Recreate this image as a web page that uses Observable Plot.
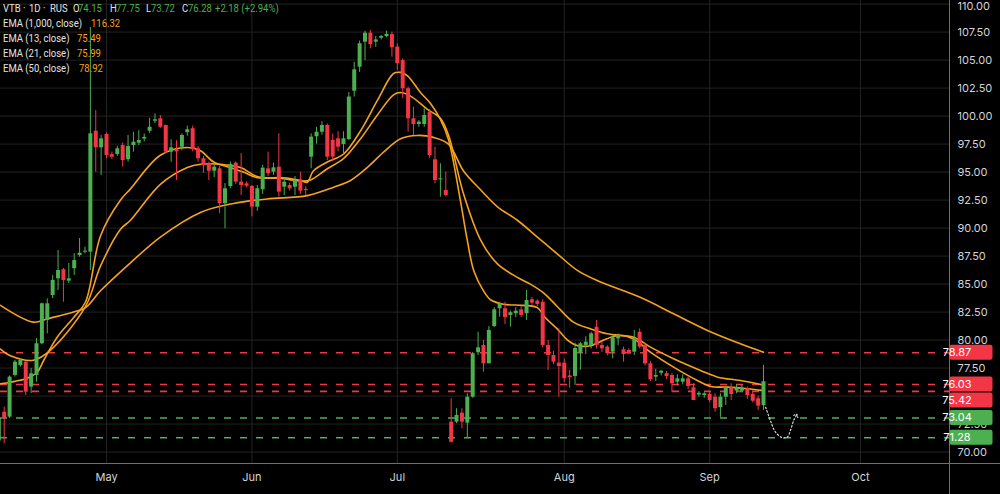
<!DOCTYPE html>
<html><head><meta charset="utf-8">
<script src="https://cdn.jsdelivr.net/npm/d3@7"></script>
<script src="https://cdn.jsdelivr.net/npm/@observablehq/plot@0.6"></script>
<style>
html,body{margin:0;padding:0;background:#000;}
#wrap{position:relative;width:1000px;height:494px;background:#000;overflow:hidden;}
#legend{position:absolute;left:0;top:0;width:400px;height:80px;font-family:Roboto,Inter,sans-serif;font-size:10.8px;color:#e3e3e3;white-space:nowrap;pointer-events:none;}
#legend span{position:absolute;line-height:12px;transform:scaleX(0.88);transform-origin:0 50%;}
#legend .g{color:#4caf50;}
#legend .o{color:#f6a21e;}
</style></head><body>
<div id="wrap"><div id="chart"></div><div id="legend"></div></div>
<script>
// ---- data ----
const tickerParts = ["VTB","·","1D","·","RUS"];
const firstIndex = -1;
const opens = [71.0,73.56,73.12,76.84,77.73,78.03,75.8,76.84,79.67,81.75,83.98,85.47,86.28,85.26,86.37,87.55,87.85,87.85,98.65,97.17,98.36,96.55,96.57,97.37,96.1,97.37,97.58,97.95,98.65,99.54,99.76,99.16,96.78,97.0,97.22,98.52,98.87,97.08,96.19,95.74,95.08,95.29,92.17,93.71,95.8,94.1,93.95,93.71,91.87,93.42,95.29,94.99,95.44,93.65,93.8,93.65,94.31,93.45,96.33,98.15,98.56,99.16,97.82,97.97,97.46,97.91,102.22,104.37,106.6,107.4,106.6,106.95,107.1,107.28,106.16,104.96,102.44,99.76,99.25,99.25,100.35,96.1,94.3,93.36,72.67,72.67,73.47,72.58,74.9,78.87,79.52,77.88,81.21,82.8,82.8,82.2,82.35,82.7,82.35,83.6,83.47,83.38,79.52,78.62,77.94,77.94,76.8,76.75,78.83,79.52,79.52,81.15,79.52,79.37,78.92,80.11,79.13,79.07,78.92,80.7,79.52,77.88,76.69,77.04,77.0,76.84,76.24,76.24,76.54,75.74,75.1,75.05,75.14,74.9,73.96,74.9,75.74,75.44,75.44,75.65,75.14,74.76,74.15];
const highs = [73.1,74.0,76.8,78.2,78.3,78.1,77.46,80.14,83.3,83.69,85.77,88.0,86.4,86.84,87.73,89.07,88.3,107.9,100.5,98.27,98.5,96.8,97.3,97.6,98.27,98.56,98.7,98.4,99.8,100.2,100.05,99.2,97.88,97.8,98.4,99.1,99.1,97.3,96.4,95.9,95.6,95.5,93.98,95.9,95.9,96.66,94.1,93.8,93.8,95.6,96.78,95.8,98.42,94.5,94.0,94.6,94.99,93.7,98.42,99.0,99.5,99.3,98.4,98.6,98.6,102.1,104.8,106.7,107.58,107.64,107.1,107.2,107.6,107.5,106.46,105.1,102.6,100.8,99.6,100.65,100.6,97.22,95.74,95.0,74.76,73.87,73.87,75.2,78.9,80.7,79.96,81.2,82.9,83.38,83.38,82.6,82.9,83.0,84.43,83.8,83.6,83.6,79.96,79.0,81.0,78.3,77.3,79.72,79.8,80.3,80.7,81.75,79.8,79.5,80.4,80.56,79.37,79.2,80.86,81.0,79.7,78.1,77.4,77.3,77.2,77.0,76.9,76.9,76.7,76.1,75.4,75.3,75.4,75.2,75.2,75.9,76.1,76.0,76.0,75.8,75.4,75.0,77.75];
const lows = [69.9,70.74,73.0,76.7,77.6,75.05,75.23,76.24,79.6,80.56,83.7,84.43,83.38,85.05,85.77,87.4,87.7,86.2,94.99,94.7,96.2,96.1,96.4,95.44,95.88,96.78,97.37,97.7,98.45,99.33,98.9,96.63,95.88,94.25,96.9,98.2,96.8,95.9,94.9,94.25,94.5,91.28,89.94,93.5,93.9,92.91,93.6,91.0,91.5,93.0,94.6,94.7,92.76,92.9,93.3,92.9,93.0,92.9,95.29,97.5,98.3,96.03,95.9,96.8,96.5,97.8,101.7,103.9,104.96,106.0,106.15,106.8,107.0,105.26,104.07,101.55,98.56,98.27,99.0,99.0,96.2,93.95,92.76,92.8,70.8,72.53,72.08,71.19,74.8,78.62,77.13,77.88,81.1,82.04,81.4,81.15,82.0,82.0,81.75,83.1,83.0,79.3,77.29,77.8,74.9,76.2,75.7,75.95,77.3,78.7,79.2,79.22,78.9,78.6,78.33,79.5,78.03,78.7,78.62,79.22,77.7,76.3,76.3,76.8,76.5,75.35,75.9,76.0,75.6,74.6,74.9,74.8,74.4,73.56,73.1,74.16,74.6,75.2,75.3,74.7,74.4,73.7,73.72];
const closes = [73.0,72.97,76.69,78.03,78.18,75.35,76.99,79.67,83.24,83.24,85.32,86.21,85.32,85.47,87.1,87.76,87.94,98.42,97.17,97.97,96.48,96.33,97.08,96.03,97.28,97.67,97.82,98.1,99.0,99.67,99.0,96.78,97.17,96.8,98.27,98.78,96.99,96.19,95.59,95.08,95.44,92.17,93.51,95.68,94.1,93.8,93.74,91.87,93.51,95.35,94.85,95.38,93.21,94.1,93.5,94.25,93.3,93.35,98.12,98.56,99.16,96.33,96.33,97.22,97.97,101.7,104.13,106.46,107.4,106.39,106.8,107.1,107.3,106.1,104.67,102.44,99.76,99.25,99.46,100.05,96.48,94.25,94.4,92.91,70.88,73.27,72.67,74.9,78.78,79.31,77.88,80.86,82.7,83.24,82.0,82.44,82.58,82.2,83.54,83.3,83.18,79.52,78.62,78.03,77.64,76.55,76.65,79.25,79.67,79.81,80.56,79.52,79.22,78.78,80.2,80.41,78.71,78.83,80.11,79.37,77.88,76.45,76.84,77.22,76.75,76.1,76.54,76.54,75.86,74.6,75.25,75.2,74.6,73.87,74.9,75.74,75.14,75.74,75.7,75.05,74.54,74.1,76.28];

// EMA lines: [day index, value]
const ema13 = [[-0.69,76.1],[1.17,76.24],[3.96,76.54],[6.13,77.13],[7.35,78.2],[9.84,80.26],[12.87,82.0],[15.1,83.4],[17.88,89.3],[21.6,92.5],[23.45,93.5],[29.0,96.5],[34.0,97.2],[36.45,96.9],[38.9,95.9],[42.0,95.4],[44.4,95.0],[47.0,94.5],[51.9,94.5],[55.0,94.25],[56.3,94.1],[57.4,95.1],[60.0,95.9],[63.0,96.6],[66.2,98.7],[69.3,101.4],[72.3,103.8],[73.6,103.9],[74.9,103.6],[77.3,102.1],[79.2,101.1],[81.0,99.7],[82.5,97.9],[84.7,92.5],[86.0,88.9],[87.2,86.2],[89.0,84.4],[90.3,83.6],[92.7,83.2],[96.4,83.1],[99.0,82.9],[100.5,82.0],[102.7,81.0],[104.6,80.0],[106.5,79.5],[108.9,79.5],[111.8,80.1],[113.9,80.4],[116.9,80.1],[120.0,78.92],[124.3,77.58],[128.7,76.39],[131.2,75.85],[134.3,75.8],[138.0,75.65],[141.0,75.49]];
const ema21 = [[-0.69,79.2],[1.17,78.6],[5.44,78.2],[8.6,79.1],[15.1,83.0],[17.88,86.6],[21.6,89.9],[23.45,90.7],[29.0,93.9],[34.0,95.4],[36.45,95.7],[40.2,95.7],[43.9,95.4],[47.0,94.6],[51.9,94.4],[55.0,94.2],[56.9,94.3],[60.0,95.3],[63.0,96.2],[66.2,98.0],[69.3,100.1],[72.3,101.9],[73.6,102.1],[75.4,101.8],[78.6,100.6],[81.0,99.8],[82.5,98.3],[85.3,93.05],[88.5,88.9],[91.6,86.8],[95.3,85.6],[97.7,85.0],[100.2,84.2],[102.7,83.0],[105.7,81.6],[108.9,81.0],[112.0,80.56],[116.9,80.26],[120.0,79.37],[124.3,78.33],[129.3,77.29],[132.5,76.69],[136.7,76.39],[141.0,75.99]];
const ema50 = [[-0.69,83.1],[5.44,81.6],[8.0,81.9],[12.9,82.5],[15.1,82.9],[17.88,84.4],[23.45,86.9],[29.0,89.2],[36.45,91.4],[42.6,92.2],[48.8,92.6],[56.3,92.9],[61.2,93.65],[64.3,94.25],[67.4,95.4],[70.5,96.8],[73.6,97.97],[76.7,98.27],[79.7,98.1],[82.5,97.5],[85.3,95.1],[88.5,93.4],[91.6,91.9],[95.3,90.7],[99.0,89.2],[102.7,87.7],[106.5,86.2],[110.2,85.3],[118.2,83.8],[124.3,82.35],[130.6,80.86],[136.7,79.67],[141.0,78.92]];
const ema1000Value = 116.32;

// projected path (dotted arrow)
const projX = [141.4,142.3,143.2,144.5,145.4,146.0,146.6,147.1];
const projY = [74.0,72.8,71.8,71.28,71.33,71.93,72.82,73.27];

// horizontal levels
const levelValues = [78.87,76.03,75.42,73.04,71.28];
const levelKinds = ["resistance","resistance","resistance","support","support"];

// axes
const yTicks = [70,72.5,75,77.5,80,82.5,85,87.5,90,92.5,95,97.5,100,102.5,105,107.5,110];
const monthTicks = [19,46,73,104,131,159];
const monthLabels = ["May","Jun","Jul","Aug","Sep","Oct"];

// ---- chart ----
const up = "#4caf50", down = "#f23645", orange = "#f6a21e", grid = "#232323", axisText = "#d1d4dc";
const candles = opens.map((o,k)=>({i:firstIndex+k,o,h:highs[k],l:lows[k],c:closes[k]}));
const col = d => d.c >= d.o ? up : down;
const bodyLo = d => { const a=Math.min(d.o,d.c), b=Math.max(d.o,d.c); return b-a<0.09 ? (a+b)/2-0.045 : a; };
const bodyHi = d => { const a=Math.min(d.o,d.c), b=Math.max(d.o,d.c); return b-a<0.09 ? (a+b)/2+0.045 : b; };
const levels = levelValues.map((v,k)=>({v, kind:levelKinds[k]}));
const levelCol = d => d.kind==="resistance" ? down : up;
const proj = projX.map((x,k)=>({x, y:projY[k]}));
const topTick = d3.max(yTicks);

const W=1000, H=494, mR=51, mB=31, tagH=15;
const xDomain=[-0.687,175.54], yDomain=[68.98,110.32];
const font = "Inter, Roboto, sans-serif";

// price-tag placement (same mapping as Plot's y scale), pushed apart when they collide
const yPix = d3.scaleLinear(yDomain, [H-mB, 0]);
const tagPos = [];
{ let prev = -Infinity;
  for (const d of levels.slice().sort((a,b)=>b.v-a.v)) {
    let py = yPix(d.v);
    if (py < prev + tagH + 1) py = prev + tagH + 1;
    prev = py; tagPos.push({d, py});
  } }
// axis labels fully covered by a tag are not drawn (as in the reference)
const shownTicks = yTicks.filter(t => !tagPos.some(p => Math.abs(yPix(t) - p.py) < 5));

const plot = Plot.plot({
  width:W, height:H, marginTop:0, marginLeft:0, marginRight:mR, marginBottom:mB,
  style:{background:"#000", color:axisText, fontFamily:font, fontSize:"11px"},
  x:{domain:xDomain, axis:null},
  y:{domain:yDomain, axis:null},
  marks:[
    Plot.gridY(yTicks,{stroke:grid, strokeOpacity:1}),
    Plot.gridX(monthTicks,{stroke:grid, strokeOpacity:1}),
    Plot.ruleY(levels,{y:"v", stroke:levelCol, strokeWidth:1.6, strokeDasharray:"7,9"}),
    Plot.line(ema50,{x:d=>d[0], y:d=>d[1], stroke:orange, strokeWidth:1.6, curve:"catmull-rom", clip:true}),
    Plot.line(ema21,{x:d=>d[0], y:d=>d[1], stroke:orange, strokeWidth:1.6, curve:"catmull-rom", clip:true}),
    Plot.line(ema13,{x:d=>d[0], y:d=>d[1], stroke:orange, strokeWidth:1.6, curve:"catmull-rom", clip:true}),
    Plot.ruleX(candles,{x:"i", y1:"l", y2:"h", stroke:col, strokeWidth:1, clip:true}),
    Plot.ruleX(candles,{x:"i", y1:bodyLo, y2:bodyHi, stroke:col, strokeWidth:4, strokeLinecap:"butt", clip:true}),
    Plot.line(proj,{x:"x", y:"y", stroke:"#d8d8d8", strokeWidth:1.2, strokeDasharray:"1.5,2.2", curve:"catmull-rom", markerEnd:"arrow"}),
    Plot.text(shownTicks.filter(t=>t!==topTick),{y:d=>d, text:d=>d.toFixed(2), frameAnchor:"right", dx:8, textAnchor:"start", fill:axisText, fontSize:11}),
    Plot.text([topTick],{y:d=>d, text:d=>d.toFixed(2), frameAnchor:"right", dx:8, dy:2, textAnchor:"start", fill:axisText, fontSize:11}),
    Plot.axisX(monthTicks,{anchor:"bottom", tickSize:0, tickPadding:10, tickFormat:d=>monthLabels[monthTicks.indexOf(d)], fill:axisText, fontSize:11})
  ]
});
document.getElementById("chart").appendChild(plot);

// chrome: separators and level price tags, positioned through Plot's scales
const svg = d3.select(plot);
const ys = plot.scale("y"), xs = plot.scale("x");
const xEdge = Math.round(xs.apply(xDomain[1])) + 0.5;
const yEdge = Math.round(ys.apply(yDomain[0])) + 0.5;
svg.append("line").attr("x1",xEdge).attr("x2",xEdge).attr("y1",0).attr("y2",H).attr("stroke","#6f6f6f");
svg.append("line").attr("x1",0).attr("x2",W).attr("y1",yEdge).attr("y2",yEdge).attr("stroke","#6f6f6f");
const tags = svg.append("g");
for (const {d, py} of tagPos) {
  tags.append("rect").attr("x",xEdge).attr("y",py-tagH/2).attr("width",43).attr("height",tagH).attr("rx",2).attr("fill",levelCol(d));
  tags.append("text").attr("x",xEdge+7.5).attr("y",py).attr("dy","0.36em").attr("fill","#fff")
    .attr("font-size",11).attr("font-family",font).text(d.v.toFixed(2));
}

// legend (overlay, top-left)
const n = closes.length-1;
const chg = closes[n]-closes[n-1], pct = chg/closes[n-1]*100;
const sign = v => (v>=0?"+":"") + v.toFixed(2);
const last = a => a[a.length-1][1].toFixed(2);
const rowTop = r => 3 + r*15;
const items = [
  [0,3,"",tickerParts[0]],[0,23,"",tickerParts[1]],[0,29,"",tickerParts[2]],[0,43,"",tickerParts[3]],[0,50,"",tickerParts[4]],
  [0,72.5,"","O"],[0,78,"g",opens[n].toFixed(2)],
  [0,109.5,"","H"],[0,115.5,"g",highs[n].toFixed(2)],
  [0,145.5,"","L"],[0,151,"g",lows[n].toFixed(2)],
  [0,181.5,"","C"],[0,188,"g",closes[n].toFixed(2)],
  [0,215,"g",`${sign(chg)} (${sign(pct)}%)`],
  [1,3,"","EMA (1,000, close)"],[1,90.5,"o",ema1000Value.toFixed(2)],
  [2,3,"","EMA (13, close)"],[2,77,"o",last(ema13)],
  [3,3,"","EMA (21, close)"],[3,77,"o",last(ema21)],
  [4,3,"","EMA (50, close)"],[4,79,"o",last(ema50)]
];
document.getElementById("legend").innerHTML = items.map(([r,x,c,t]) =>
  `<span class="${c}" style="left:${x}px;top:${rowTop(r)}px">${t}</span>`).join("");
</script></body></html>
